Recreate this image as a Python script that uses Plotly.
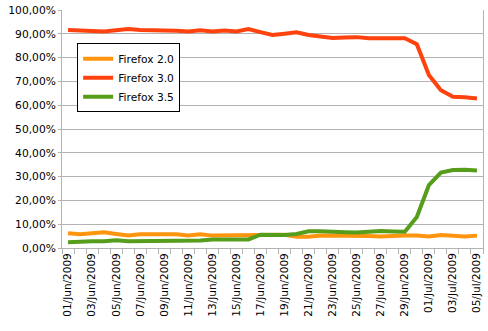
import plotly.graph_objects as go
from datetime import date, timedelta

start = date(2009, 6, 1)
dates = [(start + timedelta(days=i)).strftime("%d/%b/%Y") for i in range(35)]

ff20 = [6.2, 5.8, 6.2, 6.6, 5.9, 5.3, 5.8, 5.8, 5.8, 5.8, 5.3, 5.8, 5.2, 5.2, 5.6,
        5.2, 5.4, 5.6, 5.6, 4.7, 4.7, 5.3, 5.3, 5.2, 5.2, 5.0, 4.8, 5.2, 5.2, 5.2,
        4.8, 5.5, 5.2, 4.8, 5.2]
ff30 = [91.6, 91.5, 91.0, 91.0, 91.5, 92.0, 91.6, 91.6, 91.6, 91.3, 91.0, 91.5, 91.0, 91.4, 91.0,
        92.0, 90.7, 89.5, 90.0, 90.6, 89.5, 88.8, 88.2, 88.4, 88.6, 88.1, 88.1, 88.1, 88.1, 85.6,
        72.7, 66.3, 63.5, 63.3, 62.8]
ff35 = [2.4, 2.8, 2.8, 2.8, 3.2, 2.8, 2.8, 2.8, 2.8, 3.2, 3.2, 3.2, 3.6, 3.6, 3.2,
        3.6, 5.6, 5.5, 5.5, 5.9, 7.0, 7.0, 7.0, 6.6, 6.5, 6.8, 7.1, 6.9, 6.8, 13.0,
        26.4, 31.7, 32.8, 32.9, 32.6]

series = [("Firefox 2.0", ff20, "#ff950e"),
          ("Firefox 3.0", ff30, "#ff420e"),
          ("Firefox 3.5", ff35, "#579d1c")]

fig = go.Figure()
for name, vals, col in series:
    fig.add_trace(go.Scatter(x=dates, y=[v / 100 for v in vals], name=name, mode="lines",
                             line=dict(color=col, width=4)))

font = "DejaVu Sans, Verdana, sans-serif"
fig.update_layout(
    width=488, height=331,
    margin=dict(l=61.7, r=5, t=10, b=83.3),
    paper_bgcolor="white", plot_bgcolor="white",
    separators=",.",
    font=dict(family=font, size=10.7, color="black"),
    showlegend=True,
    legend=dict(x=0.036, y=0.86, xanchor="left", yanchor="top",
                bordercolor="black", borderwidth=1, bgcolor="white",
                font=dict(family=font, size=10.7, color="black"),
                traceorder="normal"),
)
fig.update_xaxes(type="category", categoryorder="array", categoryarray=dates,
                 range=[-0.5, 34.5], tickson="boundaries",
                 tickvals=dates, ticktext=[d if i % 2 == 0 else "" for i, d in enumerate(dates)],
                 tickangle=-90, ticks="outside", ticklen=5, tickcolor="#b3b3b3",
                 showline=True, linecolor="#b3b3b3", linewidth=1, showgrid=False,
                 tickfont=dict(family=font, size=10.5, color="black"))
fig.update_yaxes(range=[0, 1], dtick=0.1, tickformat=".2%",
                 ticks="outside", ticklen=3, tickcolor="#b3b3b3",
                 showline=True, linecolor="#b3b3b3", linewidth=1, mirror=True,
                 showgrid=True, gridcolor="#b3b3b3", gridwidth=1, zeroline=False,
                 tickfont=dict(family=font, size=10.7, color="black"))

fig.write_html("out.html")
